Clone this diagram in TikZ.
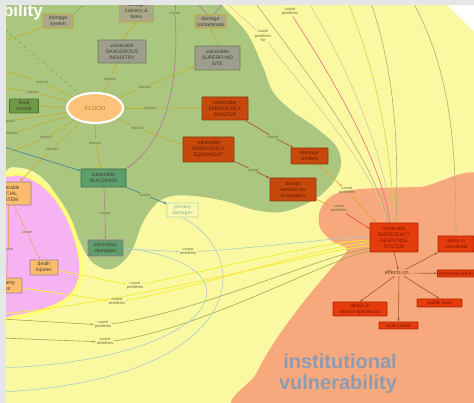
\documentclass[tikz,border=0pt]{standalone}
\usepackage{fontspec}
\setsansfont{Liberation Sans}
\usetikzlibrary{arrows.meta,shapes.geometric}
\pgfdeclarelayer{regions}
\pgfdeclarelayer{concepts}
\pgfdeclarelayer{frame}
\pgfsetlayers{regions,main,concepts,frame}

% region colours
\definecolor{framegray}{HTML}{E5E7E7}
\definecolor{bgyellow}{HTML}{FBF8A2}
\definecolor{brightyellow}{HTML}{FFFF78}
\definecolor{greenreg}{HTML}{AAC67F}
\definecolor{pinkreg}{HTML}{F6B3F1}
\definecolor{salmon}{HTML}{F7A97D}
\definecolor{instblue}{HTML}{8E9BB0}
% concept colours
\definecolor{gboxfill}{HTML}{9E9E8C}
\definecolor{gboxfilltwo}{HTML}{ABA98A}
\definecolor{gboxedge}{HTML}{6C7A52}
\definecolor{goldedge}{HTML}{C9A623}
\definecolor{gboxtext}{HTML}{3E3E30}
\definecolor{floodfill}{HTML}{FDC27A}
\definecolor{floodtext}{HTML}{B77A3A}
\definecolor{dgreenfill}{HTML}{6E9A44}
\definecolor{dgreenedge}{HTML}{4C7232}
\definecolor{orfill}{HTML}{C8480C}
\definecolor{oredge}{HTML}{8A3A12}
\definecolor{ortext}{HTML}{5E1C00}
\definecolor{tealfill}{HTML}{5E9E6C}
\definecolor{tealedge}{HTML}{3E6E42}
\definecolor{secedge}{HTML}{A26C92}
\definecolor{primfill}{HTML}{FCFAB2}
\definecolor{primedge}{HTML}{B8D4A8}
\definecolor{primtext}{HTML}{8AAE8A}
\definecolor{socfill}{HTML}{FBBD6C}
\definecolor{socedge}{HTML}{A07AA0}
\definecolor{redfill}{HTML}{E63C0C}
\definecolor{rededge}{HTML}{AE2808}
\definecolor{redtext}{HTML}{7A1800}
\definecolor{lbltext}{HTML}{6E6E38}
\definecolor{efftext}{HTML}{6A3A20}
% link colours
\definecolor{impactc}{HTML}{C4AC2C}
\definecolor{causebr}{HTML}{B04A2E}
\definecolor{probor}{HTML}{E8A030}
\definecolor{probred}{HTML}{E04A28}
\definecolor{mauve}{HTML}{B0789A}
\definecolor{bluec}{HTML}{3F7FA6}
\definecolor{tealc}{HTML}{A9CFC4}
\definecolor{yelc}{HTML}{F2EC3A}
\definecolor{olivec}{HTML}{A6A458}
\definecolor{topgray}{HTML}{B4AC78}
\definecolor{topbeige}{HTML}{DCC49A}
\definecolor{toppink}{HTML}{EE6A88}
\definecolor{topyg}{HTML}{CCD640}
\definecolor{effc}{HTML}{A4542E}
\definecolor{greenl}{HTML}{74B446}
\definecolor{socl}{HTML}{F0A070}

\tikzset{
  lbl/.style={font=\sffamily\fontsize{4}{4.5}\selectfont, text=lbltext, inner sep=0.6pt, align=center},
  cbox/.style={rectangle, rounded corners=0.7pt, line width=0.8pt, inner sep=0.3pt,
    align=center, font=\sffamily\fontsize{5}{6}\selectfont},
  greybox/.style={cbox, fill=gboxfill, draw=gboxedge, text=gboxtext},
  goldgreybox/.style={cbox, fill=gboxfilltwo, draw=goldedge, text=gboxtext},
  dgreenbox/.style={cbox, fill=dgreenfill, draw=dgreenedge, text=gboxtext},
  orbox/.style={cbox, fill=orfill, draw=oredge, text=ortext},
  tealbox/.style={cbox, fill=tealfill, draw=tealedge, text=gboxtext},
  secbox/.style={cbox, fill=tealfill, draw=secedge, text=gboxtext},
  primbox/.style={cbox, fill=primfill, draw=primedge, text=primtext},
  socbox/.style={cbox, fill=socfill, draw=socedge, text=gboxtext},
  redbox/.style={cbox, fill=redfill, draw=rededge, text=redtext},
  conn/.style={line width=0.6pt},
  arrowhd/.style={-{Stealth[length=3pt,width=2.2pt]}},
}

\begin{document}
\begin{tikzpicture}[x=1pt,y=-1pt,font=\sffamily]
\useasboundingbox (0,0) rectangle (474,403);

% ---------------- regions ----------------
\begin{pgfonlayer}{regions}
  \fill[white] (0,0) rectangle (474,403);
  \fill[bgyellow] (6,5) -- (447,5) -- (474,32) -- (474,403) -- (6,403) -- cycle;
  % physical vulnerability
  \fill[greenreg] plot[smooth cycle, tension=0.55] coordinates {
    (-10,-10) (215,-10) (222,5) (247,33) (263,67) (273,92) (292,111) (315,127)
    (336,146) (341,165) (332,184) (312,201) (282,212) (255,210) (225,201)
    (195,196) (172,196) (157,203) (143,222) (131,252) (112,269) (92,262)
    (78,238) (63,206) (47,182) (30,170) (12,167) (-10,166)};
  % social vulnerability
  \draw[brightyellow, line width=8pt, fill=pinkreg] plot[smooth cycle, tension=0.55] coordinates {
    (-14,180) (6,177) (22,176) (40,185) (55,200) (68,222) (77,250) (79,275)
    (69,295) (45,308) (15,315) (-14,317) (-24,250)};
  \fill[pinkreg] plot[smooth cycle, tension=0.55] coordinates {
    (-14,180) (6,177) (22,176) (40,185) (55,200) (68,222) (77,250) (79,275)
    (69,295) (45,308) (15,315) (-14,317) (-24,250)};
  % institutional vulnerability
  \fill[salmon] plot[smooth cycle, tension=0.5] coordinates {
    (490,186) (420,187) (360,189) (333,195) (320,210) (320,228) (332,241)
    (347,250) (330,270) (305,300) (277,338) (256,374) (243,412) (490,412)};
  \node[anchor=base east, text=white, font=\sffamily\bfseries\fontsize{17}{17}\selectfont]
    (physlbl) at (46.3,16.5) {vulnerability};
  \node[anchor=base, text=instblue, font=\sffamily\bfseries\fontsize{20}{20}\selectfont]
    (instlbla) at (340,369) {institutional};
  \node[anchor=base, text=instblue, font=\sffamily\bfseries\fontsize{20}{20}\selectfont]
    (instlblb) at (338,389.5) {vulnerability};
\end{pgfonlayer}

% ---------------- concepts and link labels ----------------
\begin{pgfonlayer}{concepts}
  \node[goldgreybox, minimum width=30pt, minimum height=14pt] (dsys) at (58,21) {damage\\system};
  \node[goldgreybox, minimum width=34pt, minimum height=22pt] (indtop) at (136.5,11) {damage\\industry \&\\tanks};
  \node[greybox, minimum width=48pt, minimum height=23pt] (ind) at (122,51.5) {vulnerable\\DANGEROUS\\INDUSTRY};
  \node[goldgreybox, minimum width=31pt, minimum height=13pt] (suptop) at (210.5,21.5) {damage\\contaminate};
  \node[greybox, minimum width=45pt, minimum height=24pt] (sup) at (217.5,58) {vulnerable\\SUPERFUND\\SITE};
  \node[ellipse, fill=floodfill, draw=white, line width=2.2pt, minimum width=56pt, minimum height=30pt,
    inner sep=0pt, text=floodtext, font=\sffamily\fontsize{6}{7}\selectfont] (flood) at (95,108) {FLOOD};
  \node[dgreenbox, minimum width=29pt, minimum height=14pt] (fctl) at (24,106) {flood\\control};
  \node[orbox, minimum width=46pt, minimum height=23pt] (shel) at (225,108.5) {vulnerable\\EMERGENCY\\SHELTER};
  \node[orbox, minimum width=51pt, minimum height=25pt] (equip) at (208.5,149.5) {vulnerable\\EMERGENCY\\EQUIPMENT};
  \node[orbox, minimum width=37pt, minimum height=16pt] (dshel) at (309.5,156) {damage\\shelters};
  \node[orbox, minimum width=46pt, minimum height=23pt] (disr) at (293,189.5) {disrupt\\services for\\evacuation};
  \node[tealbox, minimum width=45pt, minimum height=18pt] (bld) at (103.5,178) {vulnerable\\BUILDINGS};
  \node[secbox, minimum width=35pt, minimum height=16pt] (sec) at (105.5,248) {secondary\\damages};
  \node[primbox, minimum width=31pt, minimum height=14pt] (prim) at (182.5,210) {primary\\damages};
  \node[socbox, minimum width=46pt, minimum height=23pt] (soc) at (8,193.5) {vulnerable\\SOCIAL\\SYSTEM};
  \node[socbox, minimum width=28pt, minimum height=15pt] (death) at (44,267.5) {death\\injuries};
  \node[socbox, minimum width=32pt, minimum height=15pt] (ploss) at (6,285.5) {property\\loss};
  \node[redbox, minimum width=48pt, minimum height=29pt] (ers) at (394,237.5) {vulnerable\\EMERGENCY\\RESPONSE\\SYSTEM};
  \node[text=efftext, inner sep=1pt, font=\sffamily\fontsize{5.5}{6}\selectfont] (eff) at (399,273) {effects on...};
  \node[redbox, minimum width=36pt, minimum height=16pt] (rone) at (456,244) {ability to\\coordinate};
  \node[redbox, minimum width=37pt, minimum height=7pt] (rtwo) at (456,273.5) {communication};
  \node[redbox, minimum width=54pt, minimum height=14pt] (bone) at (360,309) {delays in\\rescue operations};
  \node[redbox, minimum width=39pt, minimum height=7pt] (btwo) at (398.5,325.5) {evacuation};
  \node[redbox, minimum width=45pt, minimum height=8pt] (bthree) at (439.5,303) {public trust};

  % link labels
  \node[lbl] (ia) at (110,79) {impact};
  \node[lbl] (ib) at (145,87) {impact};
  \node[lbl] (ic) at (150,108) {impact};
  \node[lbl] (id) at (137,128) {impact};
  \node[lbl] (ie) at (95,143) {impact};
  \node[lbl] (la) at (42,82) {impact};
  \node[lbl] (lb) at (33,92) {impact};
  \node[lbl] (lc) at (9,121) {impact};
  \node[lbl] (ld) at (12,133) {impact};
  \node[lbl] (le) at (46,137) {impact};
  \node[lbl] (lf) at (52,149) {impact};
  \node[lbl] (ctop) at (175,13) {cause};
  \node[lbl] (csh) at (273,137) {cause};
  \node[lbl] (ceq) at (253,170) {cause};
  \node[lbl] (cbp) at (145,195) {cause};
  \node[lbl] (cbs) at (105,213) {cause};
  \node[lbl] (csd) at (27,232) {cause};
  \node[lbl] (csp) at (8,249) {cause};
  \node[lbl] (pds) at (347,191) {cause\\problems};
  \node[lbl] (pdr) at (339,209) {cause\\problems};
  \node[lbl] (ptop) at (290,12) {cause\\problems};
  \node[lbl] (pfor) at (263,36) {cause\\problems\\for};
  \node[lbl] (psec) at (188,252) {cause\\problems};
  \node[lbl] (pdeath) at (135,286) {cause\\problems};
  \node[lbl] (pl) at (117,302) {cause\\problems};
  \node[lbl] (poa) at (103,325) {cause\\problems};
  \node[lbl] (pob) at (105,342) {cause\\problems};
\end{pgfonlayer}

% free ends of links leaving the view
\coordinate (wa) at (2,70);
\coordinate (wb) at (2,88);
\coordinate (wc) at (1,122);
\coordinate (wd) at (1,137);
\coordinate (we) at (1,156);
\coordinate (wdsys) at (1,43);
\coordinate (wgreen) at (1,26);
\coordinate (wblue) at (1,146);
\coordinate (wy) at (1,314);
\coordinate (woa) at (1,319);
\coordinate (wob) at (1,338);
\coordinate (warca) at (1,368);
\coordinate (warcb) at (1,392);
\coordinate (tg) at (90,0);
\coordinate (ttop) at (175,0);
\coordinate (tma) at (194,0);
\coordinate (tmb) at (226,0);
\coordinate (ta) at (223,0);
\coordinate (tb) at (253,0);
\coordinate (tc) at (307,0);
\coordinate (td) at (347,0);
\coordinate (te) at (370,0);
\coordinate (tf) at (412,0);

% ---------------- links ----------------
% flood impacts
\begin{scope}[conn, impactc]
  \draw (flood) -- (ia);  \draw[arrowhd] (ia) -- (ind);
  \draw (flood) -- (ib);  \draw[arrowhd] (ib) -- (sup.200);
  \draw (flood) -- (ic);  \draw[arrowhd] (ic) -- (shel);
  \draw (flood) -- (id);  \draw[arrowhd] (id) -- (equip.170);
  \draw (flood) -- (ie);  \draw[arrowhd] (ie) -- (bld);
  \draw[arrowhd] (flood) -- (fctl);
  \draw (flood) -- (la);  \draw[arrowhd] (la) -- (wa);
  \draw (flood) -- (lb);  \draw[arrowhd] (lb) -- (wb);
  \draw (flood) -- (lc);  \draw (lc) -- (wc);
  \draw (flood) -- (ld);  \draw (ld) -- (wd);
  \draw (flood) -- (le);  \draw[arrowhd] (le) -- (we);
  \draw (flood) -- (lf);  \draw[arrowhd] (lf) -- (soc);
  \draw[arrowhd] (ind.north) -- (indtop.south);
  \draw[arrowhd] (sup.north) -- (suptop.south);
  \draw (dsys.200) -- (wdsys);
\end{scope}
\draw[conn, greenl] (dsys.north east) -- (tg);
\draw[conn, greenl, dashed] (wgreen) -- (flood);

% buildings and damages
\draw[conn, mauve] (ttop) -- (ctop);
\draw[conn, mauve, arrowhd] (ctop) .. controls (179,80) and (168,140) .. (bld.north east);
\draw[conn, mauve] (tma) -- (suptop.115);
\draw[conn, mauve] (suptop.65) -- (tmb);
\draw[conn, bluec, arrowhd] (wblue) -- (bld);
\draw[conn, bluec] (bld) -- (cbp);
\draw[conn, bluec, arrowhd] (cbp) -- (prim);
\draw[conn, mauve] (bld) -- (cbs);
\draw[conn, mauve, arrowhd] (cbs) -- (sec);
\draw[conn, socl] (soc) -- (csd);
\draw[conn, socl, arrowhd] (csd) -- (death);
\draw[conn, socl] (soc) -- (csp);
\draw[conn, socl, arrowhd] (csp) -- (ploss);

% emergency resources
\draw[conn, causebr] (shel) -- (csh);
\draw[conn, causebr, arrowhd] (csh) -- (dshel);
\draw[conn, causebr] (equip) -- (ceq);
\draw[conn, causebr, arrowhd] (ceq) -- (disr);
\draw[conn, probor, arrowhd] (dshel) -- (pds);
\draw[conn, probor, arrowhd] (pds) -- (ers.140);
\draw[conn, probor, arrowhd] (disr) -- (pdr);
\draw[conn, probred, arrowhd] (pdr) -- (ers.160);

% problems arriving from above
\draw[conn, topbeige] (ta) -- (pfor);
\draw[conn, topbeige] (pfor) .. controls (320,110) and (378,175) .. (ers.118);
\draw[conn, topgray] (tb) .. controls (305,70) and (375,160) .. (ers.112);
\draw[conn, toppink] (ptop) .. controls (340,90) and (382,165) .. (ers.104);
\draw[conn, topbeige] (tc) .. controls (350,70) and (386,160) .. (ers.98);
\draw[conn, topyg] (td) .. controls (380,80) and (392,160) .. (ers.90);
\draw[conn, topgray] (te) .. controls (398,80) and (398,160) .. (ers.82);
\draw[conn, topgray] (tf) .. controls (450,70) and (456,140) .. (rone.north);

% problems arriving from the left
\draw[conn, tealc, arrowhd] (sec) -- (psec);
\draw[conn, tealc] (psec) .. controls (260,248) and (330,238) .. (ers.178);
\draw[conn, yelc, line width=0.8pt, arrowhd] (death) -- (pdeath);
\draw[conn, yelc, line width=0.8pt] (pdeath) .. controls (220,268) and (320,242) .. (ers.186);
\draw[conn, yelc, line width=0.8pt, arrowhd] (ploss) -- (pl);
\draw[conn, yelc, line width=0.8pt] (pl) .. controls (210,285) and (320,246) .. (ers.192);
\draw[conn, yelc, line width=0.8pt] (wy) .. controls (150,300) and (320,250) .. (ers.198);
\draw[conn, olivec, arrowhd] (woa) -- (poa);
\draw[conn, olivec] (poa) .. controls (200,312) and (325,254) .. (ers.204);
\draw[conn, olivec, arrowhd] (wob) -- (pob);
\draw[conn, olivec] (pob) .. controls (200,330) and (330,258) .. (ers.209);
\draw[conn, tealc] (sec.east) .. controls (270,265) and (220,360) .. (warca);
\draw[conn, tealc] (prim.south) .. controls (260,260) and (240,380) .. (warcb);

% effects of a weak response system
\begin{scope}[conn, effc]
  \draw[arrowhd] (ers.south) -- (eff);
  \draw[arrowhd] (eff) -- (rone.south west);
  \draw[arrowhd] (eff) -- (rtwo);
  \draw[arrowhd] (eff) -- (bone.north);
  \draw[arrowhd] (eff) -- (btwo.north);
  \draw[arrowhd] (eff) -- (bthree.north);
\end{scope}

% window frame
\begin{pgfonlayer}{frame}
  \fill[framegray] (0,0) rectangle (474,5);
  \fill[framegray] (0,0) rectangle (6,403);
\end{pgfonlayer}
\end{tikzpicture}
\end{document}
